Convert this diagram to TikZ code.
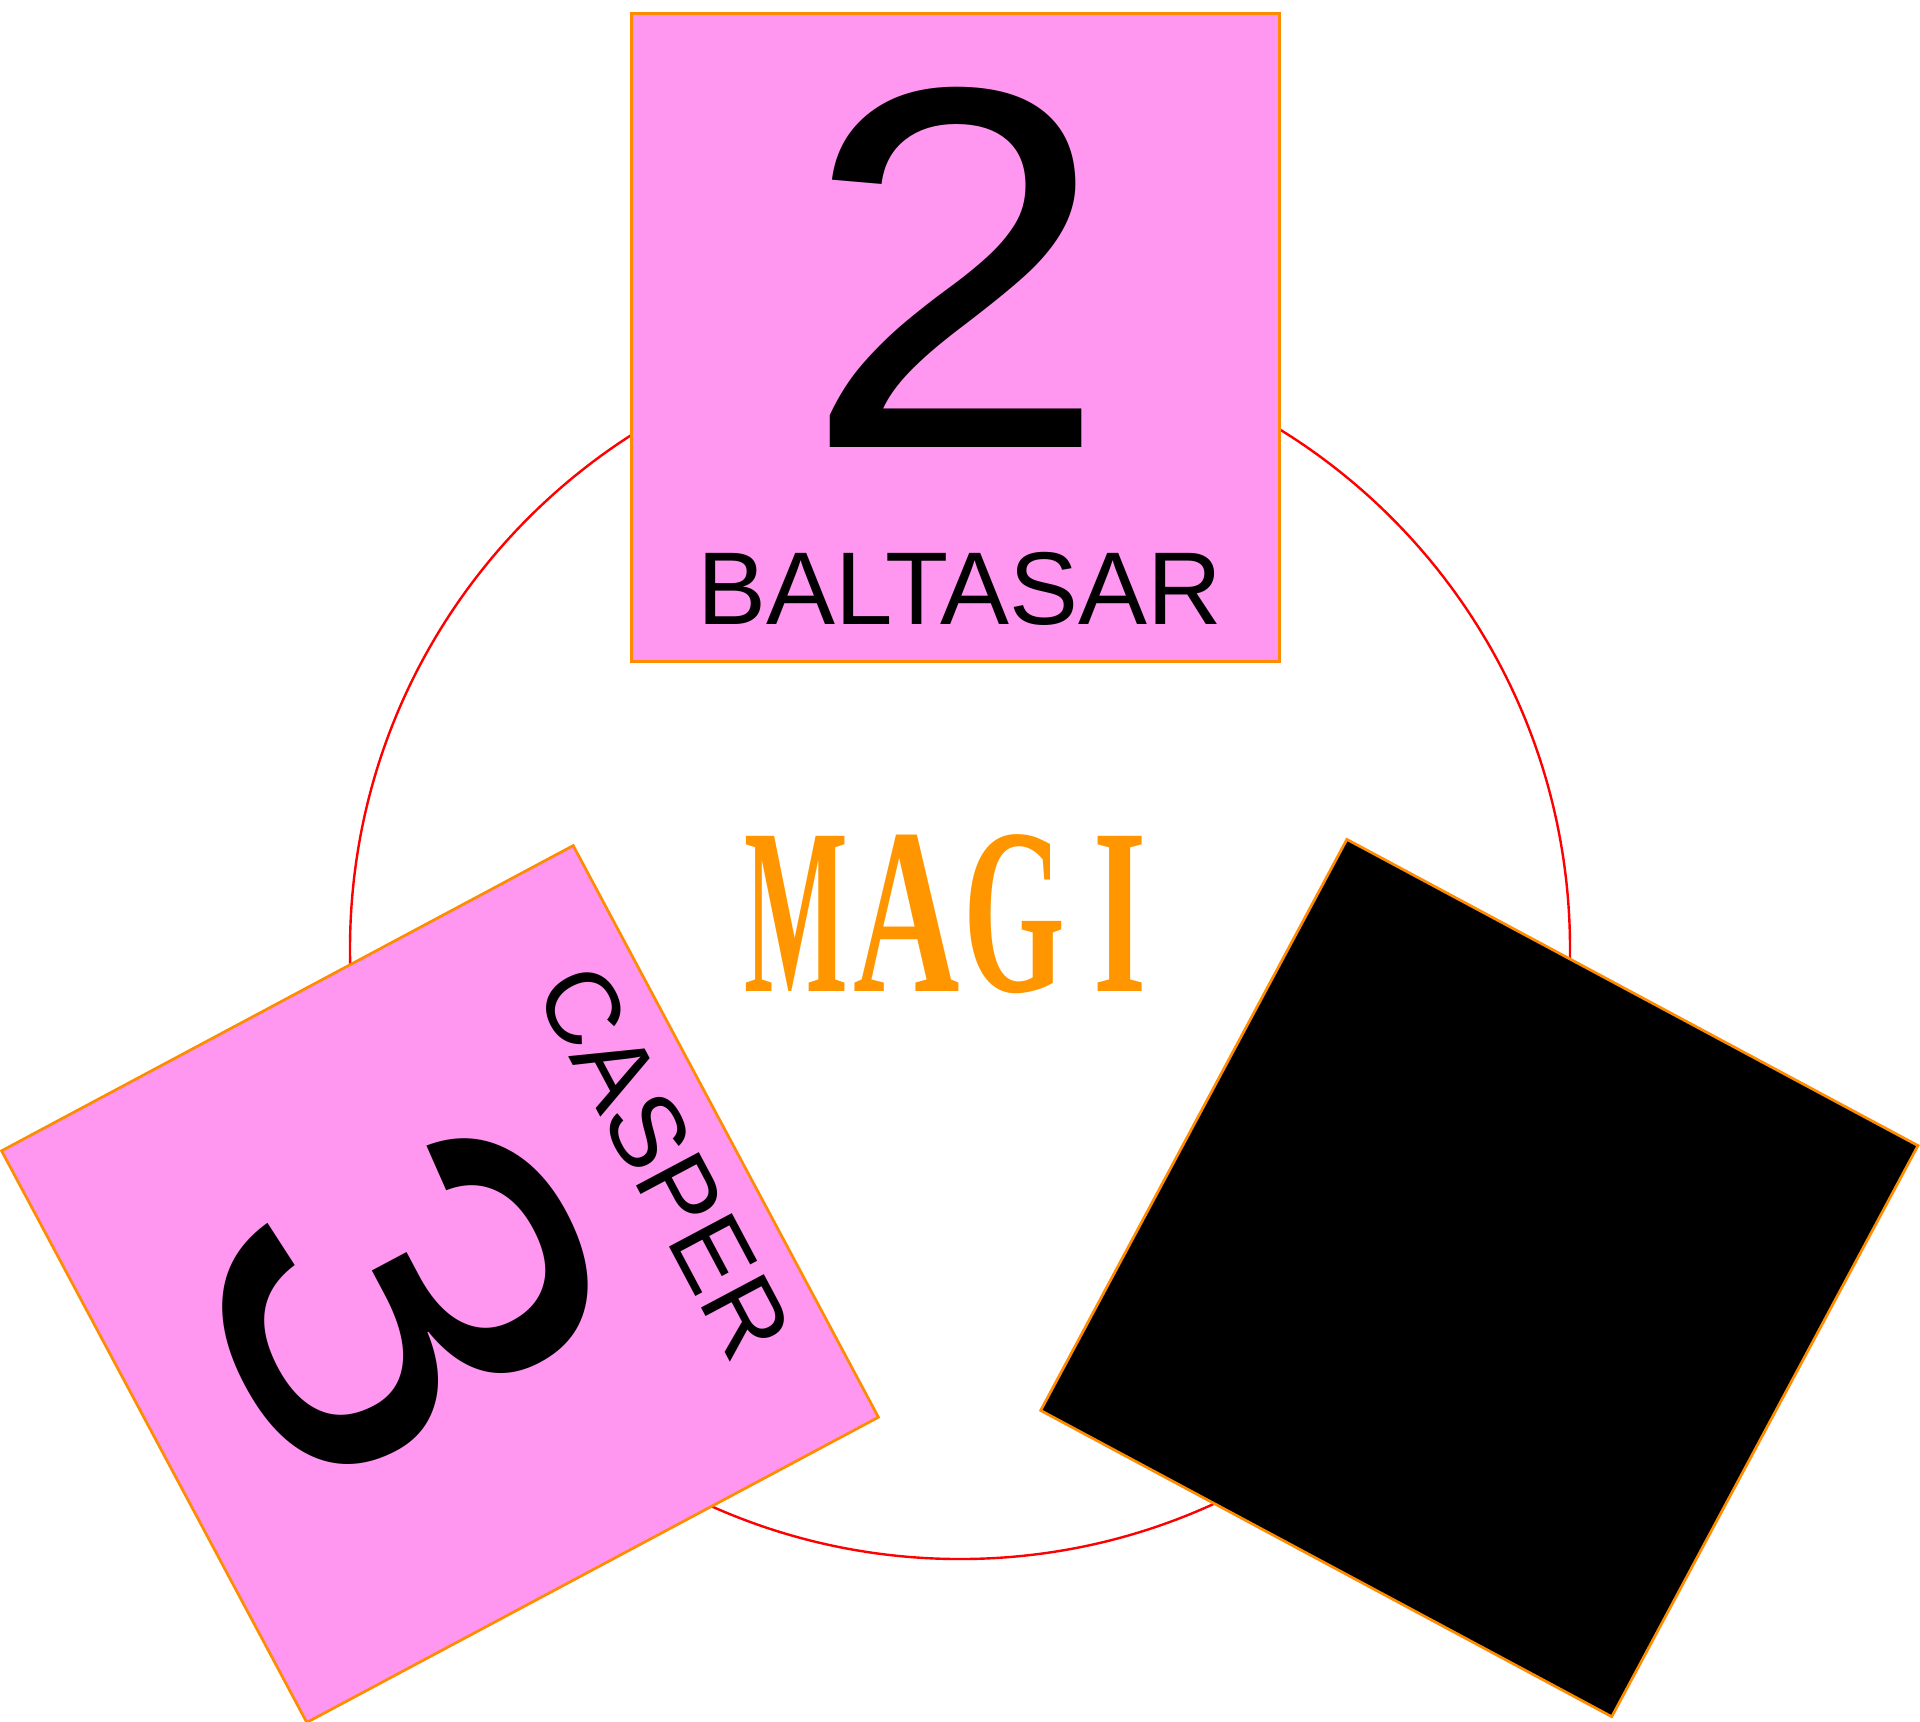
\documentclass[tikz,border=0pt]{standalone}
\usepackage{fontspec}
\usepackage{graphicx}
\setmainfont{Liberation Serif}
\newfontfamily\magisans{Liberation Sans}
\newfontfamily\magiserif{Liberation Serif}
\definecolor{pinkfill}{RGB}{255,150,240}
\definecolor{boxedge}{RGB}{255,140,0}
\definecolor{magiorange}{RGB}{255,150,0}
\begin{document}
\begin{tikzpicture}[x=0.5pt,y=0.5pt,
  panel/.style={shape=rectangle, draw=boxedge, line width=1.35pt, minimum width=324pt, minimum height=324pt, inner sep=0pt},
  bignum/.style={inner sep=0pt, font=\magisans\fontsize{258pt}{258pt}\selectfont},
  unitname/.style={inner sep=0pt, font=\magisans\fontsize{51.7pt}{51.7pt}\selectfont},
]
\useasboundingbox (0,0) rectangle (1920,-1721);
\node[circle, draw=red, line width=1.2pt, minimum size=610pt, inner sep=0pt] (ring) at (960,-949) {};
% BALTASAR
\node[panel, fill=pinkfill] (balthasarbox) at (955.5,-337.7) {};
\node[bignum] (n2) at (956.5,-267) {\scalebox{1.07}[1]{2}};
\node[unitname] (baltasar) at (960,-588.5) {BALTASAR};
% CASPER
\node[panel, fill=pinkfill, rotate=28.1] (casperbox) at (440,-1284) {};
\begin{scope}[shift={(440,-1284)}, rotate=-62, transform shape]
  \node[bignum] (n3) at (-1.6,-36.8) {\scalebox{1.07}[1]{3}};
  \node[unitname] (casper) at (-2.5,255.5) {CASPER};
\end{scope}
% MELCHIOR
\node[panel, fill=black, rotate=-28.2] (melchiorbox) at (1479.3,-1278) {};
% MAGI
\node[anchor=base west, inner sep=0pt, text=magiorange, font=\magiserif\bfseries\fontsize{118.5pt}{118.5pt}\selectfont] (magi) at (744.2,-991)
  {\scalebox{0.463}[1]{M}\kern2.45pt\scalebox{0.622}[1]{A}\kern2.05pt\scalebox{0.552}[1]{G}\kern14.2pt\scalebox{0.577}[1]{I}};
\end{tikzpicture}
\end{document}
